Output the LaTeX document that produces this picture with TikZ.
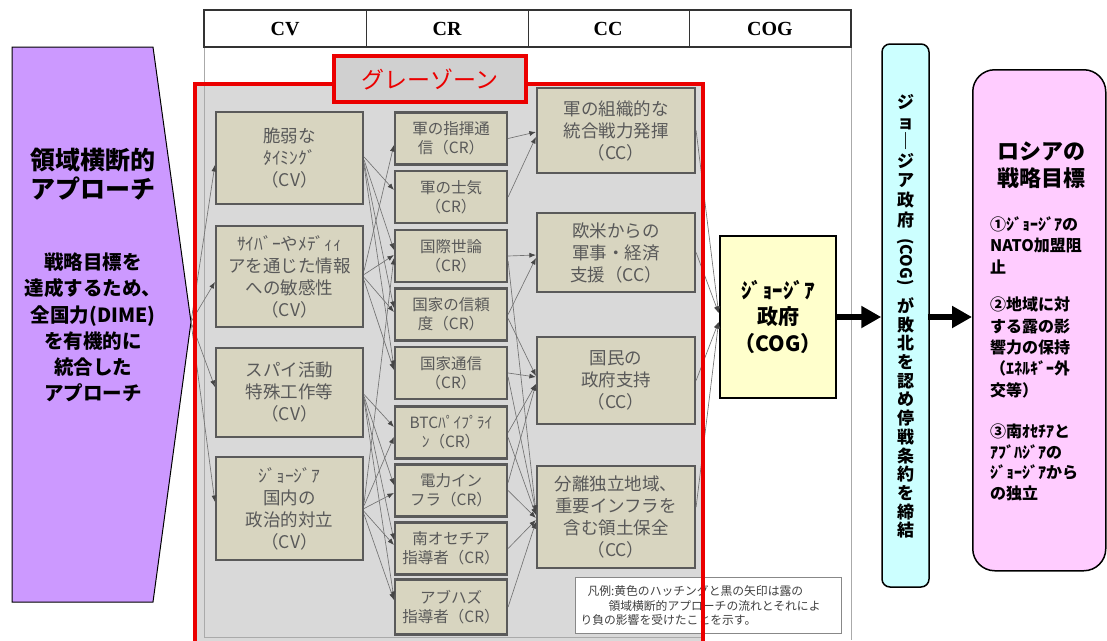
\documentclass[tikz,border=0pt]{standalone}
\usepackage{fontspec}
\setmainfont{Liberation Serif}
\newfontfamily\jp{Noto Sans CJK JP}
\usetikzlibrary{arrows.meta}
\definecolor{boxfill}{RGB}{216,213,192}
\definecolor{boxline}{RGB}{90,90,90}
\definecolor{boxtext}{RGB}{89,89,89}
\definecolor{zonefill}{RGB}{217,217,217}
\definecolor{labelfill}{RGB}{208,208,208}
\definecolor{zonered}{RGB}{235,0,0}
\definecolor{purp}{RGB}{204,153,255}
\definecolor{cyanb}{RGB}{204,255,255}
\definecolor{yelb}{RGB}{255,255,204}
\definecolor{pinkb}{RGB}{255,204,255}
\definecolor{edgegray}{RGB}{115,115,115}
\definecolor{edgehead}{RGB}{70,70,70}
\definecolor{frameg}{RGB}{170,170,170}
\tikzset{
  cvbox/.style={draw=boxline, line width=2.2pt, fill=boxfill, text=boxtext, inner sep=0pt, align=center,
    minimum width=147pt, font=\jp\fontsize{17.5}{22}\selectfont},
  crbox/.style={draw=boxline, line width=2.2pt, fill=boxfill, text=boxtext, inner sep=0pt, align=center,
    minimum width=112pt, minimum height=52pt, font=\jp\fontsize{15.5}{19}\selectfont},
  ccbox/.style={draw=boxline, line width=2.2pt, fill=boxfill, text=boxtext, inner sep=0pt, align=center,
    minimum width=158pt, font=\jp\fontsize{17.5}{22}\selectfont},
  flow/.style={draw=edgegray, line width=0.65pt, -{Latex[length=6.5pt,width=5pt,color=edgehead]}},
  bigarrow/.style={draw=black, line width=6pt, -{Triangle[length=20pt,width=21pt]}},
  hdr/.style={font=\bfseries\fontsize{20}{24}\selectfont},
}
\begin{document}
\begin{tikzpicture}[x=1pt,y=-1pt]
\useasboundingbox (0,0) rectangle (1107,640);
\fill[white] (0,0) rectangle (1107,640);

% table frame
\draw[frameg, line width=1pt] (204,47) -- (204,640) (851,47) -- (851,640);
\draw[black!80, line width=1.2pt] (204,10) rectangle (851,47);
\draw[black!80, line width=1pt] (366,10) -- (366,47) (528,10) -- (528,47) (689,10) -- (689,47);
\node[hdr] (hcv) at (285,29) {CV};
\node[hdr] (hcr) at (447,29) {CR};
\node[hdr] (hcc) at (608,29) {CC};
\node[hdr] (hcog) at (770,29) {COG};

% grey zone fill
\fill[zonefill] (195,84) rectangle (703,645);
\draw[frameg, line width=0.8pt] (204,84) -- (204,637) -- (703,637);

% left pentagon
\draw[black, line width=1pt, fill=purp] (12,47) -- (153,47) -- (191,322) -- (153,602) -- (12,602) -- cycle;
\coordinate (apex) at (191,322);
\node[font=\jp\bfseries\fontsize{25}{29}\selectfont, align=center] (pt1) at (93,174) {領域横断的\\アプローチ};
\node[font=\jp\bfseries\fontsize{19.5}{26.2}\selectfont, align=center] (pt2) at (93,327.5) {戦略目標を\\達成するため、\\全国力(DIME)\\を有機的に\\統合した\\アプローチ};

% boxes
\node[cvbox, minimum height=92pt] (cv1) at (289.5,158) {脆弱な\\ﾀｲﾐﾝｸﾞ\\（CV）};
\node[cvbox, minimum height=101pt] (cv2) at (289.5,276.5) {ｻｲﾊﾞｰやﾒﾃﾞｨｨ\\アを通じた情報\\への敏感性\\（CV）};
\node[cvbox, minimum height=89pt] (cv3) at (289.5,392.5) {スパイ活動\\特殊工作等\\（CV）};
\node[cvbox, minimum height=103pt] (cv4) at (289.5,508.5) {ｼﾞｮｰｼﾞｱ\\国内の\\政治的対立\\（CV）};

\node[crbox] (cr1) at (451,138.5) {軍の指揮通\\信（CR）};
\node[crbox] (cr2) at (451,197) {軍の士気\\（CR）};
\node[crbox] (cr3) at (451,256) {国際世論\\（CR）};
\node[crbox] (cr4) at (451,314.5) {国家の信頼\\度（CR）};
\node[crbox] (cr5) at (451,373) {国家通信\\（CR）};
\node[crbox] (cr6) at (451,432.5) {BTCﾊﾟｲﾌﾟﾗｲ\\ﾝ（CR）};
\node[crbox] (cr7) at (451,490.5) {電力イン\\フラ（CR）};
\node[crbox] (cr8) at (451,548.5) {南オセチア\\指導者（CR）};
\node[crbox, minimum height=55pt] (cr9) at (451,607) {アブハズ\\指導者（CR）};

\node[ccbox, minimum height=85pt] (cc1) at (616,130.5) {軍の組織的な\\統合戦力発揮\\（CC）};
\node[ccbox, minimum height=79pt] (cc2) at (616,252.5) {欧米からの\\軍事・経済\\支援（CC）};
\node[ccbox, minimum height=87pt] (cc3) at (616,380.5) {国民の\\政府支持\\（CC）};
\node[ccbox, minimum height=102pt] (cc4) at (616,517) {分離独立地域、\\重要インフラを\\含む領土保全\\（CC）};

\node[draw=black, line width=2.8pt, fill=yelb, minimum width=116pt, minimum height=162pt, inner sep=0pt,
  font=\jp\bfseries\fontsize{21}{26.5}\selectfont, align=center] (cog) at (778,317) {ｼﾞｮｰｼﾞｱ\\政府\\（COG）};

% connectors
\draw[flow] (apex) -- ([yshift=-7pt]cv1.west);
\draw[flow] (apex) -- ([yshift=-5.5pt]cv2.west);
\draw[flow] (apex) -- ([yshift=5.5pt]cv3.west);
\draw[flow] (apex) -- ([yshift=6.5pt]cv4.west);

\draw[flow] ([yshift=1pt]cv1.east) -- ([yshift=7pt]cr2.west);
\draw[flow] ([yshift=-2pt]cv1.east) -- ([yshift=6pt]cr3.west);
\draw[flow] ([yshift=-5pt]cv1.east) -- ([yshift=6.5pt]cr4.west);
\draw[flow] ([yshift=-8pt]cv1.east) -- ([yshift=6pt]cr5.west);
\draw[flow] ([yshift=6pt]cv2.east) -- ([yshift=-6.5pt]cr1.west);
\draw[flow] ([yshift=2pt]cv2.east) -- ([yshift=1pt]cr3.west);
\draw[flow] ([yshift=-1pt]cv2.east) -- ([yshift=2.5pt]cr4.west);
\draw[flow] ([yshift=-4pt]cv2.east) -- ([yshift=3pt]cr5.west);
\draw[flow] ([yshift=-2pt]cv3.east) -- ([yshift=5.5pt]cr6.west);
\draw[flow] ([yshift=-4pt]cv3.east) -- ([yshift=5.5pt]cr7.west);
\draw[flow] ([yshift=-6pt]cv3.east) -- ([yshift=8.5pt]cr8.west);
\draw[flow] ([yshift=-8pt]cv3.east) -- ([yshift=9pt]cr9.west);
\draw[flow] ([yshift=6pt]cv4.east) -- ([yshift=-2pt]cr3.west);
\draw[flow] ([yshift=3pt]cv4.east) -- ([yshift=-4.5pt]cr6.west);
\draw[flow] ([yshift=0pt]cv4.east) -- ([yshift=-2.5pt]cr7.west);
\draw[flow] ([yshift=-3pt]cv4.east) -- ([yshift=3.5pt]cr8.west);
\draw[flow] ([yshift=-6pt]cv4.east) -- ([yshift=7pt]cr9.west);

\draw[flow] (cr1.east) -- ([yshift=-1.5pt]cc1.west);
\draw[flow] (cr2.east) -- ([yshift=-6.5pt]cc1.west);
\draw[flow] (cr3.east) -- ([yshift=-2.5pt]cc2.west);
\draw[flow] ([yshift=-5pt]cr3.east) -- ([yshift=5pt]cc4.west);
\draw[flow] (cr4.east) -- ([yshift=-5.5pt]cc2.west);
\draw[flow] ([yshift=-4pt]cr4.east) -- ([yshift=4.5pt]cc3.west);
\draw[flow] (cr5.east) -- ([yshift=3.5pt]cc3.west);
\draw[flow] ([yshift=-4pt]cr5.east) -- ([yshift=5pt]cc4.west);
\draw[flow] (cr6.east) -- ([yshift=-3.5pt]cc3.west);
\draw[flow] ([yshift=-5pt]cr6.east) -- ([yshift=2pt]cc4.west);
\draw[flow] ([yshift=8pt]cr7.east) -- ([yshift=-3.5pt]cc3.west);
\draw[flow] (cr7.east) -- ([yshift=-1pt]cc4.west);
\draw[flow] (cr8.east) -- ([yshift=-3pt]cc4.west);
\draw[flow] (cr9.east) -- ([yshift=-5pt]cc4.west);

\draw[flow] (cc1.east) -- ([yshift=4pt]cog.west);
\draw[flow] (cc2.east) -- ([yshift=4pt]cog.west);
\draw[flow] (cc3.east) -- ([yshift=-5pt]cog.west);
\draw[flow] ([yshift=10pt]cc4.east) -- ([yshift=-5pt]cog.west);

% legend
\node[draw=frameg!80!black, line width=1pt, fill=white, anchor=north west, minimum width=266pt, minimum height=56pt,
  inner sep=0pt, text width=256pt, align=left, text=black!75, font=\jp\fontsize{11.8}{14.5}\selectfont] (legend) at (575,577)
  {\hspace*{7pt}凡例:黄色のハッチングと黒の矢印は露の\\\hspace*{28pt}領域横断的アプローチの流れとそれによ\\り負の影響を受けたことを示す。};

% red frame and label
\draw[zonered, line width=4.5pt] (195,650) -- (195,84) -- (703,84) -- (703,650);
\node[draw=zonered, line width=4.5pt, fill=labelfill, minimum width=192pt, minimum height=46pt, inner sep=0pt,
  text=zonered, font=\jp\fontsize{23}{26}\selectfont] (gz) at (430,79) {グレーゾーン};

% banner
\node[draw=black, line width=1.5pt, fill=cyanb, rounded corners=8pt, minimum width=47pt, minimum height=543pt] (banner) at (905.5,315.5) {};
\node[font=\jp\bfseries\fontsize{17}{19.6}\selectfont, align=center] (bt1) at (905.5,161) {ジ\\ョ\\｜\\ジ\\ア\\政\\府};
\node[font=\jp\bfseries\fontsize{16}{18}\selectfont, rotate=-90] (bt2) at (905.5,262) {(COG)};
\node[font=\jp\bfseries\fontsize{17}{18.7}\selectfont, align=center] (bt3) at (905.5,418) {が\\敗\\北\\を\\認\\め\\停\\戦\\条\\約\\を\\締\\結};

% pink box
\node[draw=black, line width=1.5pt, fill=pinkb, rounded corners=22pt, minimum width=133pt, minimum height=501pt, anchor=north west] (pink) at (972,69) {};
\node[font=\jp\bfseries\fontsize{22}{27}\selectfont, align=center] (ptitle) at (1041,165) {ロシアの\\戦略目標};
\node[font=\jp\bfseries\fontsize{16}{21.5}\selectfont, align=left, anchor=west, inner sep=0pt] (g1) at (990,245) {①ｼﾞｮｰｼﾞｱの\\NATO加盟阻\\止};
\node[font=\jp\bfseries\fontsize{16}{21.3}\selectfont, align=left, anchor=west, inner sep=0pt] (g2) at (990,347.5) {②地域に対\\する露の影\\響力の保持\\（ｴﾈﾙｷﾞｰ外\\交等）};
\node[font=\jp\bfseries\fontsize{16}{20.5}\selectfont, align=left, anchor=west, inner sep=0pt] (g3) at (990,462.5) {③南ｵｾﾁｱと\\ｱﾌﾞﾊｼﾞｱの\\ｼﾞｮｰｼﾞｱから\\の独立};

% thick arrows
\draw[bigarrow] (cog.east) -- (cog.east -| banner.west);
\draw[bigarrow] ([xshift=-2pt]cog.east -| banner.east) -- (cog.east -| pink.west);
\end{tikzpicture}
\end{document}
